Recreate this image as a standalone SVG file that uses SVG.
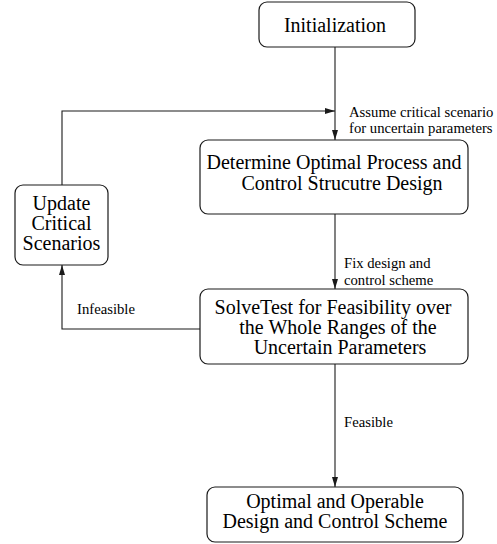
<svg xmlns="http://www.w3.org/2000/svg" width="497" height="544" viewBox="0 0 497 544">
<defs>
<marker id="ah" viewBox="0 0 10 6" refX="10" refY="3" markerWidth="10" markerHeight="6" markerUnits="userSpaceOnUse" orient="auto">
<path d="M0,0 L10,3 L0,6 z" fill="#1a1a1a"/>
</marker>
<style>
.box{fill:#fff;stroke:#1a1a1a;stroke-width:1.2}
.t{font-family:"Liberation Serif","Times New Roman",serif;font-size:20px;fill:#000;text-anchor:middle}
.l{font-family:"Liberation Serif","Times New Roman",serif;font-size:14.7px;fill:#000}
.c{fill:none;stroke:#1a1a1a;stroke-width:1.1}
</style>
</defs>
<rect width="497" height="544" fill="#fff"/>
<g id="connectors">
<path class="c" d="M335,47 V140" marker-end="url(#ah)"/>
<path class="c" d="M62,185 V111 H335" marker-end="url(#ah)"/>
<path class="c" d="M335,214 V289" marker-end="url(#ah)"/>
<path class="c" d="M200,329 H62 V265" marker-end="url(#ah)"/>
<path class="c" d="M335,364 V487" marker-end="url(#ah)"/>
<text class="l" x="349" y="117">Assume critical scenario</text>
<text class="l" x="349" y="133">for uncertain parameters</text>
<text class="l" x="344" y="268">Fix design and</text>
<text class="l" x="344" y="285">control scheme</text>
<text class="l" x="77" y="314">Infeasible</text>
<text class="l" x="344" y="427">Feasible</text>
</g>
<g id="init">
<rect class="box" x="259" y="2" width="156" height="45" rx="8"/>
<text class="t" x="335" y="32">Initialization</text>
</g>
<g id="determine">
<rect class="box" x="200" y="140" width="268" height="74" rx="8"/>
<text class="t" x="334" y="169">Determine Optimal Process and</text>
<text class="t" x="342" y="190">Control Strucutre Design</text>
</g>
<g id="update">
<rect class="box" x="15" y="185" width="93" height="80" rx="8"/>
<text class="t" x="61.5" y="210">Update</text>
<text class="t" x="61.5" y="230">Critical</text>
<text class="t" x="61.5" y="250">Scenarios</text>
</g>
<g id="solvetest">
<rect class="box" x="200" y="289" width="268" height="75" rx="8"/>
<text class="t" x="333" y="314">SolveTest for Feasibility over</text>
<text class="t" x="338" y="334">the Whole Ranges of the</text>
<text class="t" x="340" y="354">Uncertain Parameters</text>
</g>
<g id="final">
<rect class="box" x="207" y="487" width="256" height="55" rx="8"/>
<text class="t" x="335" y="508">Optimal and Operable</text>
<text class="t" x="335" y="528">Design and Control Scheme</text>
</g>
</svg>
